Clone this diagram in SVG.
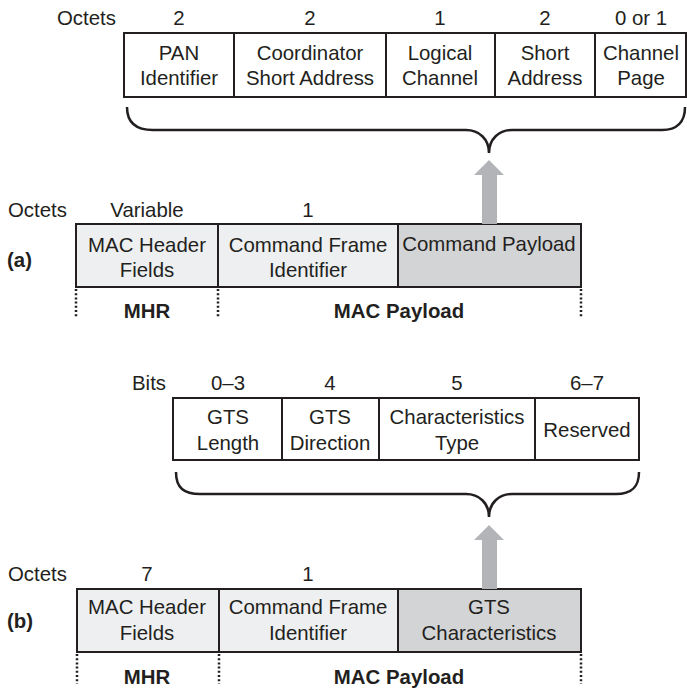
<svg xmlns="http://www.w3.org/2000/svg" width="687" height="688" viewBox="0 0 687 688">
<style>
text{font-family:"Liberation Sans",Arial,Helvetica,sans-serif;font-size:20.4px;fill:#231f20;text-anchor:middle}
.l{text-anchor:start}
.b{font-weight:bold}
.box{stroke:#231f20;stroke-width:2;fill:#ffffff}
.lt{fill:#eeeff0}
.dk{fill:#d3d4d6}
.div{stroke:#231f20;stroke-width:2;fill:none}
.dot{stroke:#231f20;stroke-width:2.5;stroke-dasharray:2 2.2;fill:none}
.brace{stroke:#231f20;stroke-width:2.5;fill:none}
.arrow{fill:#b3b4b7}
</style>
<rect width="687" height="688" fill="#ffffff"/>

<!-- Top: Command payload fields -->
<g id="payload-fields">
<text class="l" x="57" y="25">Octets</text>
<text x="179" y="25">2</text>
<text x="310" y="25">2</text>
<text x="440" y="25">1</text>
<text x="545" y="25">2</text>
<text x="641" y="25">0 or 1</text>
<rect class="box" x="124" y="33" width="562" height="64"/>
<line class="div" x1="234" y1="33" x2="234" y2="97"/>
<line class="div" x1="386" y1="33" x2="386" y2="97"/>
<line class="div" x1="495" y1="33" x2="495" y2="97"/>
<line class="div" x1="595" y1="33" x2="595" y2="97"/>
</g>
<g id="pan-id"><text x="179" y="60">PAN</text><text x="179" y="85">Identifier</text></g>
<g id="coord-short"><text x="310" y="60">Coordinator</text><text x="310" y="85">Short Address</text></g>
<g id="logical-channel"><text x="440" y="60">Logical</text><text x="440" y="85">Channel</text></g>
<g id="short-address"><text x="545" y="60">Short</text><text x="545" y="85">Address</text></g>
<g id="channel-page"><text x="641" y="60">Channel</text><text x="641" y="85">Page</text></g>

<!-- Frame (a) -->
<g id="frame-a">
<text class="l b" x="7" y="267">(a)</text>
<text class="l" x="8" y="217">Octets</text>
<text x="147" y="217">Variable</text>
<text x="308" y="217">1</text>
<rect class="box lt" x="76" y="224" width="505" height="63"/>
<rect class="dk" x="398" y="225" width="182" height="61"/>
<line class="div" x1="218" y1="224" x2="218" y2="287"/>
<line class="div" x1="398" y1="224" x2="398" y2="287"/>
<rect x="76" y="224" width="505" height="63" fill="none" stroke="#231f20" stroke-width="2"/>
</g>
<g id="a-mhr-fields"><text x="147" y="252">MAC Header</text><text x="147" y="277">Fields</text></g>
<g id="a-cmd-id"><text x="308" y="252">Command Frame</text><text x="308" y="277">Identifier</text></g>
<g id="a-cmd-payload"><text x="489" y="251">Command Payload</text></g>
<g id="a-labels">
<text class="b" x="147" y="318">MHR</text>
<text class="b" x="399" y="318">MAC Payload</text>
</g>

<!-- Bottom: GTS characteristics fields -->
<g id="gts-fields">
<text class="l" x="132" y="390">Bits</text>
<text x="228" y="390">0–3</text>
<text x="330" y="390">4</text>
<text x="457" y="390">5</text>
<text x="587" y="390">6–7</text>
<rect class="box" x="173" y="398" width="466" height="62"/>
<line class="div" x1="282" y1="398" x2="282" y2="460"/>
<line class="div" x1="379" y1="398" x2="379" y2="460"/>
<line class="div" x1="535" y1="398" x2="535" y2="460"/>
</g>
<g id="gts-length"><text x="228" y="424">GTS</text><text x="228" y="450">Length</text></g>
<g id="gts-direction"><text x="330" y="424">GTS</text><text x="330" y="450">Direction</text></g>
<g id="char-type"><text x="457" y="424">Characteristics</text><text x="457" y="450">Type</text></g>
<g id="reserved"><text x="587" y="437">Reserved</text></g>

<!-- Frame (b) -->
<g id="frame-b">
<text class="l b" x="7" y="628">(b)</text>
<text class="l" x="8" y="581">Octets</text>
<text x="147" y="581">7</text>
<text x="308" y="581">1</text>
<rect class="box lt" x="77" y="589" width="504" height="63"/>
<rect class="dk" x="398" y="590" width="182" height="61"/>
<line class="div" x1="219" y1="589" x2="219" y2="652"/>
<line class="div" x1="398" y1="589" x2="398" y2="652"/>
<rect x="77" y="589" width="504" height="63" fill="none" stroke="#231f20" stroke-width="2"/>
</g>
<g id="b-mhr-fields"><text x="147" y="614">MAC Header</text><text x="147" y="640">Fields</text></g>
<g id="b-cmd-id"><text x="308" y="614">Command Frame</text><text x="308" y="640">Identifier</text></g>
<g id="b-gts-char"><text x="489" y="614">GTS</text><text x="489" y="640">Characteristics</text></g>
<g id="b-labels">
<text class="b" x="147" y="684">MHR</text>
<text class="b" x="399" y="684">MAC Payload</text>
</g>

<!-- Connectors -->
<g id="connectors">
<path class="brace" d="M127,107 C127,123 136,130 153,130 H466 C479,130 489,139 489,153 C489,139 499,130 512,130 H662 C677,130 685,122 685,107"/>
<polygon class="arrow" points="489,160 504,175 497,175 497,224 482,224 482,175 474,175"/>
<path class="brace" d="M176,472 C176,488 184,494 200,494 H466 C479,494 489,503 489,517 C489,503 499,494 512,494 H616 C631,494 639,488 639,472"/>
<polygon class="arrow" points="489,525 504,540 497,540 497,589 482,589 482,540 474,540"/>
<line class="dot" x1="76" y1="289" x2="76" y2="318"/>
<line class="dot" x1="218" y1="289" x2="218" y2="318"/>
<line class="dot" x1="581" y1="289" x2="581" y2="318"/>
<line class="dot" x1="77" y1="654" x2="77" y2="684"/>
<line class="dot" x1="219" y1="654" x2="219" y2="684"/>
<line class="dot" x1="581" y1="654" x2="581" y2="684"/>
</g>
</svg>
